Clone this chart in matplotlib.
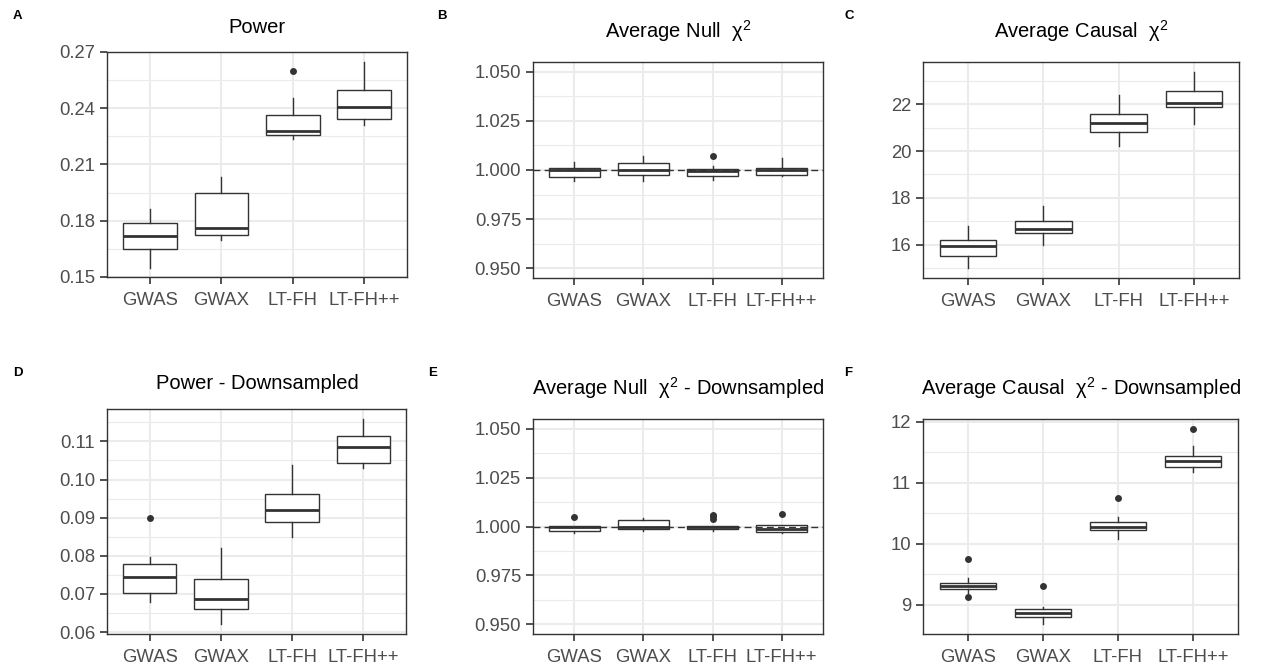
import matplotlib.pyplot as plt

plt.rcParams['font.family'] = ['Liberation Sans', 'DejaVu Sans']
plt.rcParams['mathtext.fontset'] = 'custom'
plt.rcParams['mathtext.rm'] = 'Liberation Sans'
plt.rcParams['mathtext.it'] = 'Liberation Sans'

methods = ['GWAS', 'GWAX', 'LT-FH', 'LT-FH++']

# each row: whisker low, q1, median, q3, whisker high
power = [[0.1548, 0.1651, 0.1717, 0.1790, 0.1864],
         [0.1696, 0.1726, 0.1761, 0.1950, 0.2033],
         [0.2238, 0.2256, 0.2277, 0.2366, 0.2455],
         [0.2309, 0.2344, 0.2407, 0.2496, 0.2647]]
power_out = [[], [], [0.2599], []]

null_chi = [[0.9942, 0.9963, 0.9998, 1.0010, 1.0039],
            [0.9942, 0.9975, 1.0000, 1.0034, 1.0069],
            [0.9947, 0.9968, 0.9995, 1.0005, 1.0019],
            [0.9968, 0.9975, 1.0000, 1.0012, 1.0061]]
null_out = [[], [], [1.0073], []]

causal_chi = [[15.01, 15.53, 15.94, 16.19, 16.81],
              [15.99, 16.50, 16.67, 17.00, 17.64],
              [20.20, 20.80, 21.20, 21.59, 22.39],
              [21.17, 21.89, 22.07, 22.56, 23.40]]
causal_out = [[], [], [], []]

power_ds = [[0.0680, 0.0703, 0.0745, 0.0778, 0.0798],
            [0.0621, 0.0661, 0.0686, 0.0738, 0.0820],
            [0.0850, 0.0890, 0.0920, 0.0962, 0.1039],
            [0.1030, 0.1043, 0.1085, 0.1115, 0.1159]]
power_ds_out = [[0.0900], [], [], []]

null_ds = [[0.9966, 0.9975, 0.9998, 1.0003, 1.0004],
           [0.9978, 0.9988, 0.9997, 1.0034, 1.0042],
           [0.9978, 0.9986, 0.9995, 1.0003, 1.0004],
           [0.9966, 0.9973, 0.9986, 1.0007, 1.0008]]
null_ds_out = [[1.0051], [], [1.0058, 1.0052, 1.0038], [1.0065]]

causal_ds = [[9.19, 9.267, 9.31, 9.354, 9.436],
             [8.683, 8.80, 8.863, 8.93, 8.97],
             [10.08, 10.227, 10.28, 10.358, 10.445],
             [11.17, 11.264, 11.356, 11.44, 11.607]]
causal_ds_out = [[9.75, 9.125], [9.316], [10.75], [11.885]]

W, H = 1262, 669
fig = plt.figure(figsize=(W / 100, H / 100), dpi=100)
dark = '#333333'


def make_ax(x0, x1, y0, y1):
    return fig.add_axes([x0 / W, 1 - y1 / H, (x1 - x0) / W, (y1 - y0) / H])


def draw(ax, stats, outs, ylim, ticks, minor, fmt, hline=False):
    boxes = []
    for s, o in zip(stats, outs):
        boxes.append(dict(whislo=s[0], q1=s[1], med=s[2], q3=s[3], whishi=s[4], fliers=o))
    ax.bxp(boxes, positions=[1, 2, 3, 4], widths=0.75, showcaps=False, patch_artist=True,
           boxprops=dict(facecolor='white', edgecolor=dark, linewidth=1.0),
           medianprops=dict(color=dark, linewidth=2.0),
           whiskerprops=dict(color=dark, linewidth=1.0),
           flierprops=dict(marker='o', markerfacecolor=dark, markeredgecolor='none', markersize=5))
    if hline:
        ax.axhline(1.0, color=dark, linestyle=(0, (5, 3)), linewidth=1.0, zorder=4)
    ax.set_xlim(0.4, 4.6)
    ax.set_ylim(*ylim)
    ax.set_xticks([1, 2, 3, 4])
    ax.set_xticklabels(methods)
    ax.set_yticks(ticks)
    ax.set_yticklabels([fmt.format(t) for t in ticks])
    ax.set_yticks(minor, minor=True)
    ax.set_axisbelow(True)
    ax.grid(which='major', color='#EBEBEB', linewidth=1.5)
    ax.grid(which='minor', axis='y', color='#EBEBEB', linewidth=0.8)
    ax.tick_params(which='major', length=5, width=1.2, color=dark, labelcolor='#4D4D4D',
                   labelsize=13.3, pad=3.5)
    ax.tick_params(axis='x', which='major', pad=6)
    ax.tick_params(which='minor', length=0)
    for sp in ax.spines.values():
        sp.set_color(dark)
        sp.set_linewidth(1.0)


axA = make_ax(107, 407, 52, 277)
draw(axA, power, power_out, (0.15, 0.27), [0.15, 0.18, 0.21, 0.24, 0.27],
     [0.165, 0.195, 0.225, 0.255], '{:.2f}')
axB = make_ax(533, 823, 62, 278)
draw(axB, null_chi, null_out, (0.945, 1.055), [0.95, 0.975, 1.0, 1.025, 1.05],
     [0.9625, 0.9875, 1.0125, 1.0375], '{:.3f}', hline=True)
axC = make_ax(923, 1239, 62, 278)
draw(axC, causal_chi, causal_out, (14.57, 23.81), [16, 18, 20, 22],
     [15, 17, 19, 21, 23], '{:.0f}')
axD = make_ax(107, 406, 409, 634)
draw(axD, power_ds, power_ds_out, (0.0595, 0.1185), [0.06, 0.07, 0.08, 0.09, 0.10, 0.11],
     [0.065, 0.075, 0.085, 0.095, 0.105, 0.115], '{:.2f}')
axE = make_ax(533, 823, 419, 634)
draw(axE, null_ds, null_ds_out, (0.945, 1.055), [0.95, 0.975, 1.0, 1.025, 1.05],
     [0.9625, 0.9875, 1.0125, 1.0375], '{:.3f}', hline=True)
axF = make_ax(923, 1238, 419, 634)
draw(axF, causal_ds, causal_ds_out, (8.525, 12.045), [9, 10, 11, 12],
     [9.5, 10.5, 11.5], '{:.0f}')

titles = [('Power', 257, 33),
          (r'Average Null  $\chi^2$', 678, 38),
          (r'Average Causal  $\chi^2$', 1081, 38),
          ('Power - Downsampled', 257, 389),
          (r'Average Null  $\chi^2$ - Downsampled', 678, 395),
          (r'Average Causal  $\chi^2$ - Downsampled', 1081, 395)]
for t, x, y in titles:
    fig.text(x / W, 1 - y / H, t, ha='center', va='baseline', fontsize=14.5, color='black')

letters = [('A', 13, 19), ('B', 437, 19), ('C', 845, 19),
           ('D', 13, 376), ('E', 428, 376), ('F', 844, 376)]
for t, x, y in letters:
    fig.text(x / W, 1 - y / H, t, ha='left', va='baseline', fontsize=9.5, fontweight='bold')

fig.savefig('out.png', dpi=100)
